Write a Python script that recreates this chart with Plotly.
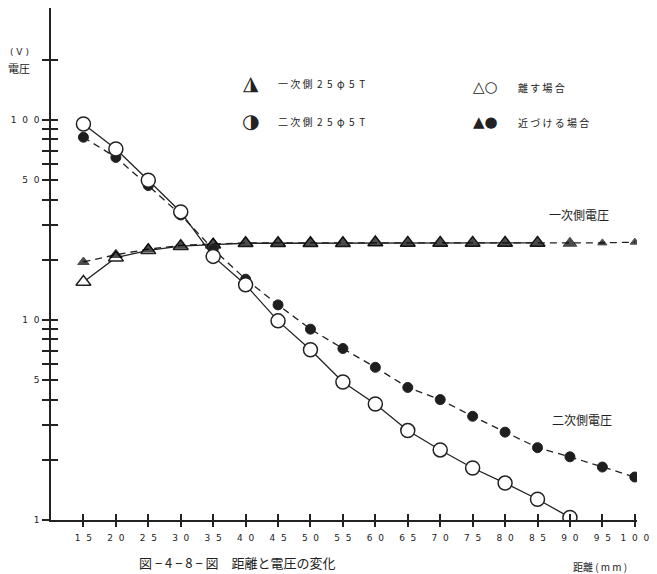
import plotly.graph_objects as go

# ---- data (distance in mm, voltage in V) ----
dist_open_circle = [15, 20, 25, 30, 35, 40, 45, 50, 55, 60, 65, 70, 75, 80, 85, 90]
sec_away = [95.5, 71.6, 50, 34.7, 20.8, 15.0, 9.9, 7.1, 4.9, 3.8, 2.8, 2.24, 1.82, 1.53, 1.27, 1.03]

dist_full = [15, 20, 25, 30, 35, 40, 45, 50, 55, 60, 65, 70, 75, 80, 85, 90, 95, 100]
sec_near = [82, 65, 47, 33.5, 22.6, 16.0, 11.9, 9.0, 7.2, 5.8, 4.6, 4.0, 3.3, 2.75, 2.3, 2.07, 1.84, 1.64]

dist_open_tri = [15, 20, 25, 30, 35, 40, 45, 50, 55, 60, 65, 70, 75, 80, 85]
pri_away = [15.5, 20.5, 22.3, 23.4, 23.8, 24.2, 24.2, 24.2, 24.2, 24.4, 24.3, 24.3, 24.3, 24.3, 24.3]
pri_near = [19.5, 21.2, 22.6, 23.6, 24.0, 24.3, 24.3, 24.3, 24.3, 24.4, 24.3, 24.3, 24.3, 24.3, 24.3, 24.2, 24.3, 24.5]
pri_near_size = [10, 11, 11, 11] + [12] * 12 + [8, 8]

NB = "\u00a0"
x_ticks = list(range(15, 101, 5))
x_ticktext = [(NB * 2).join(str(v)) for v in x_ticks]
y_ticks = [1, 2, 3, 4, 5, 6, 7, 8, 9, 10, 20, 30, 40, 50, 60, 70, 80, 90, 100, 200]
y_labels = {1: "1", 5: "5", 10: "1" + NB * 2 + "0", 50: "5" + NB * 2 + "0",
            100: "1" + NB * 2 + "0" + NB * 2 + "0"}
y_ticktext = [y_labels.get(v, "") for v in y_ticks]

INK = "#222222"
JP = "Noto Sans CJK JP"
NUMF = "DejaVu Sans"

# plot area in pixels
L, R, T, B = 51, 640, 8, 520
W, H = 657, 574


def px(x):
    return (x - L) / (R - L)


def py(y):
    return (B - y) / (B - T)


fig = go.Figure()

fig.add_trace(go.Scatter(
    x=dist_open_tri, y=pri_away, mode="lines+markers",
    line=dict(color=INK, width=1.3),
    marker=dict(symbol="triangle-up", size=13, color="white", line=dict(color=INK, width=1.5)),
    showlegend=False, hoverinfo="skip"))
fig.add_trace(go.Scatter(
    x=dist_full, y=pri_near, mode="lines+markers",
    line=dict(color=INK, width=1.3, dash="7px,5px"),
    marker=dict(symbol="triangle-up", size=pri_near_size, color="black", line=dict(color="black", width=1)),
    showlegend=False, hoverinfo="skip"))
fig.add_trace(go.Scatter(
    x=dist_full, y=sec_near, mode="lines+markers",
    line=dict(color=INK, width=1.3, dash="7px,5px"),
    marker=dict(symbol="circle", size=10, color="#1e1e1e", line=dict(color=INK, width=1)),
    showlegend=False, hoverinfo="skip"))
fig.add_trace(go.Scatter(
    x=dist_open_circle, y=sec_away, mode="lines+markers",
    xaxis="x2", yaxis="y2",
    line=dict(color=INK, width=1.3),
    marker=dict(symbol="circle", size=14, color="white", line=dict(color=INK, width=1.5)),
    showlegend=False, hoverinfo="skip"))

xr = [10, 10 + (R - L) / 6.52]
yr = [0, (B - T) / 200]

axis_common = dict(showgrid=False, zeroline=False, showline=True, linecolor=INK, linewidth=1.5,
                   tickcolor=INK, tickwidth=1.5)

fig.update_layout(
    width=W, height=H,
    margin=dict(l=L, r=W - R, t=T, b=H - B),
    paper_bgcolor="white", plot_bgcolor="white",
    xaxis=dict(range=xr, tickmode="array", tickvals=x_ticks, ticktext=x_ticktext,
               ticks="inside", ticklen=6, ticklabelstandoff=8,
               tickfont=dict(family=NUMF, size=9, color="#222"), **axis_common),
    yaxis=dict(type="log", range=yr, tickmode="array", tickvals=y_ticks, ticktext=y_ticktext,
               ticks="inside", ticklen=7, ticklabelstandoff=8,
               tickfont=dict(family=NUMF, size=9, color="#222"), **axis_common),
    xaxis2=dict(range=xr, overlaying="x", side="bottom", tickmode="array", tickvals=x_ticks,
                showticklabels=False, ticks="outside", ticklen=5, **axis_common),
    yaxis2=dict(type="log", range=yr, overlaying="y", side="left", tickmode="array", tickvals=y_ticks,
                showticklabels=False, ticks="outside", ticklen=7, **axis_common),
)

ann = []


def text(xp, yp, s, size=10, xanchor="center", yanchor="middle", family=JP):
    ann.append(dict(x=px(xp), y=py(yp), xref="paper", yref="paper", text=s, showarrow=False,
                    xanchor=xanchor, yanchor=yanchor, font=dict(family=family, size=size, color="#222")))


def spaced(s, n=1):
    return (NB * n).join(s)


# y-axis unit
text(19, 52, "(" + NB + "V" + NB + ")", size=9, family=NUMF)
text(19, 68, "電圧", size=11)

# legend block
text(252, 83, "◮", size=20, family="DejaVu Sans")
text(277, 83, spaced("一次側") + NB * 2 + spaced("25φ5T", 2), size=10, xanchor="left")
text(252, 121, "◑", size=20, family="DejaVu Sans")
text(277, 121, spaced("二次側") + NB * 2 + spaced("25φ5T", 2), size=10, xanchor="left")
text(488, 87, "△○", size=15, family="DejaVu Sans")
text(518, 87, spaced("離す場合"), size=10, xanchor="left")
text(488, 122, "▲●", size=15, family="DejaVu Sans")
text(518, 122, spaced("近づける場合"), size=10, xanchor="left")

# curve labels
text(582, 214, "一次側電圧", size=12)
text(585, 419, "二次側電圧", size=12)

# x-axis title
text(603, 566, "距離" + NB + "(" + NB + "m" + NB + "m" + NB + ")", size=10)

# caption at the bottom edge
text(137, 574, "図 − 4 − 8 − 図　距離と電圧の変化", size=13, xanchor="left", yanchor="bottom")

fig.update_layout(annotations=ann)

fig.write_html("out.html")
